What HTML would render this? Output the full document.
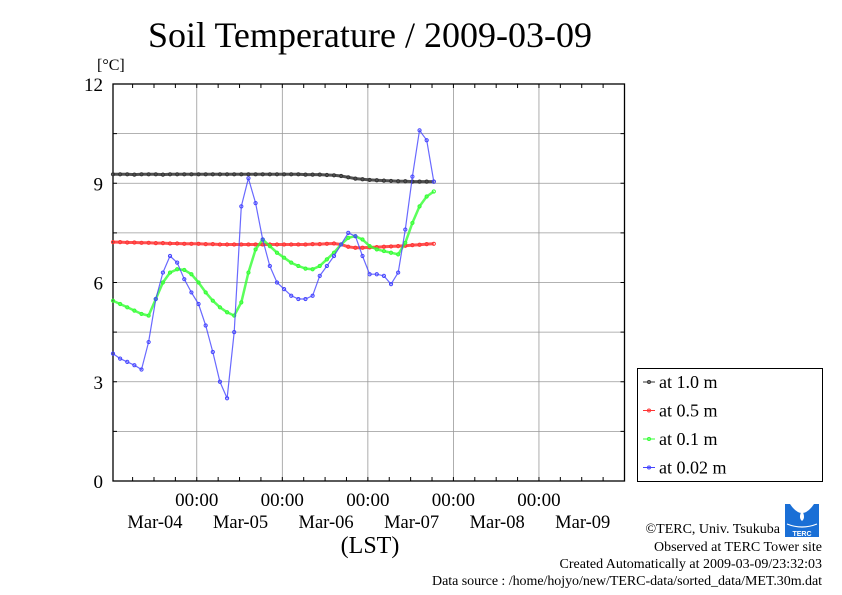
<!DOCTYPE html>
<html><head><meta charset="utf-8"><style>
body{margin:0;background:#fff;}
svg{display:block;font-family:"Liberation Serif",serif;}
</style></head><body>
<svg id="c" width="842" height="595" viewBox="0 0 842 595">
<text x="370" y="47" font-size="36" text-anchor="middle" textLength="444">Soil Temperature / 2009-03-09</text>
<text x="97" y="70" font-size="16">[°C]</text>
<text x="370" y="553" font-size="24" text-anchor="middle">(LST)</text>
<g id="plot"></g>
<g>
<rect x="637.5" y="368.5" width="185" height="113" fill="#fff" stroke="#000" stroke-width="1"/>
<g id="leg"></g>
</g>
<g>
<rect x="785" y="504" width="34" height="33" fill="#1a6fd6"/>
<path d="M790 504 Q802 522 814 504 Z" fill="#fff"/>
<path d="M802 510 Q798 518 802 521 Q806 518 802 510 Z" fill="#fff"/>
<path d="M787 524 Q802 530 817 524" stroke="#fff" fill="none" stroke-width="1.2"/>
<text x="802" y="536" font-size="7" fill="#fff" text-anchor="middle" font-family="Liberation Sans,sans-serif" font-weight="bold">TERC</text>
</g>
<g font-size="14" text-anchor="end">
<text x="780" y="533">©TERC, Univ. Tsukuba</text>
<text x="822" y="551">Observed at TERC Tower site</text>
<text x="822" y="568">Created Automatically at 2009-03-09/23:32:03</text>
<text x="822" y="585" textLength="390">Data source : /home/hojyo/new/TERC-data/sorted_data/MET.30m.dat</text>
</g>
</svg>
<script>
const hours=[-23.5,-21.5,-19.5,-17.5,-15.5,-13.5,-11.5,-9.5,-7.5,-5.5,-3.5,-1.5,0.5,2.5,4.5,6.5,8.5,10.5,12.5,14.5,16.5,18.5,20.5,22.5,24.5,26.5,28.5,30.5,32.5,34.5,36.5,38.5,40.5,42.5,44.5,46.5,48.5,50.5,52.5,54.5,56.5,58.5,60.5,62.5,64.5,66.5];
const t100=[9.27,9.27,9.27,9.26,9.27,9.27,9.27,9.26,9.27,9.27,9.27,9.27,9.27,9.27,9.27,9.27,9.27,9.27,9.27,9.27,9.27,9.27,9.27,9.27,9.27,9.27,9.27,9.26,9.26,9.26,9.25,9.24,9.22,9.18,9.14,9.12,9.1,9.09,9.08,9.07,9.06,9.06,9.05,9.05,9.05,9.05];
const t050=[7.22,7.22,7.21,7.21,7.2,7.2,7.19,7.19,7.18,7.18,7.17,7.17,7.17,7.16,7.16,7.15,7.15,7.15,7.15,7.15,7.15,7.15,7.15,7.15,7.15,7.15,7.15,7.15,7.16,7.16,7.17,7.18,7.15,7.08,7.05,7.05,7.06,7.07,7.08,7.09,7.1,7.11,7.13,7.14,7.16,7.17];
const t010=[5.45,5.35,5.25,5.15,5.05,5.0,5.5,6.0,6.3,6.4,6.38,6.25,6.0,5.7,5.45,5.25,5.1,5.0,5.4,6.3,7.0,7.3,7.1,6.9,6.75,6.6,6.5,6.42,6.4,6.5,6.7,6.9,7.15,7.35,7.4,7.3,7.1,7.0,6.95,6.9,6.85,7.2,7.8,8.3,8.6,8.75];
const t002=[3.85,3.7,3.6,3.5,3.37,4.2,5.5,6.3,6.8,6.6,6.1,5.7,5.35,4.7,3.9,3.0,2.5,4.5,8.3,9.15,8.4,7.3,6.5,6.0,5.8,5.6,5.5,5.5,5.6,6.2,6.5,6.8,7.15,7.5,7.4,6.8,6.25,6.25,6.2,5.95,6.3,7.6,9.2,10.6,10.3,9.05];
const yTicks=[0,3,6,9,12];
const dayLabels=["Mar-04","Mar-05","Mar-06","Mar-07","Mar-08","Mar-09"];
const seriesNames=["at 1.0 m","at 0.5 m","at 0.1 m","at 0.02 m"];
const seriesColors=["#333","#f33","#3f3","#44f"];

const NS="http://www.w3.org/2000/svg";
const L=113,R=624.5,T=84,B=481,HMIN=-23.5,HMAX=120,YMAX=12;
const xs=h=>L+(h-HMIN)/(HMAX-HMIN)*(R-L);
const ys=v=>B-v/YMAX*(B-T);
const plot=document.getElementById('plot');
function mk(tag,attrs,parent){const e=document.createElementNS(NS,tag);for(const k in attrs)e.setAttribute(k,attrs[k]);(parent||plot).appendChild(e);return e;}
for(let v=1.5;v<YMAX;v+=1.5){const g=mk('line',{x1:L,x2:R,y1:ys(v),y2:ys(v),stroke:'#999','stroke-width':0.8});

}
for(let d=0;d<5;d++){const g=mk('line',{x1:xs(d*24),x2:xs(d*24),y1:T,y2:B,stroke:'#999','stroke-width':0.8});


const t=mk('text',{x:xs(d*24),y:506,'font-size':19,'text-anchor':'middle'});t.textContent='00:00';

}
for(let h=-18;h<HMAX;h+=6){mk('line',{x1:xs(h),x2:xs(h),y1:T,y2:T+4,stroke:'#000'});mk('line',{x1:xs(h),x2:xs(h),y1:B,y2:B-4,stroke:'#000'});}
dayLabels.forEach((lab,i)=>{const t=mk('text',{x:xs(i*24-12)+1,y:528,'font-size':18.5,'text-anchor':'middle'});t.textContent=lab;

});
for(let v=1.5;v<YMAX;v+=1.5){mk('line',{x1:L,x2:L+4,y1:ys(v),y2:ys(v),stroke:'#000'});mk('line',{x1:R,x2:R-4,y1:ys(v),y2:ys(v),stroke:'#000'});}
yTicks.forEach(v=>{const t=mk('text',{x:103,y:ys(v)+7,'font-size':19,'text-anchor':'end'});t.textContent=v;

});
const fr=mk('rect',{x:L,y:T,width:R-L,height:B-T,fill:'none',stroke:'#000','stroke-width':1.3});


[t100,t050,t010,t002].forEach((data,si)=>{
 const g=mk('g',{});
 
 
 const pts=data.map((v,i)=>xs(hours[i]).toFixed(1)+','+ys(v).toFixed(1)).join(' ');
 mk('polyline',{points:pts,fill:'none',stroke:seriesColors[si],'stroke-width':si<2?3:(si==2?2.5:1.2),'stroke-linejoin':'round','stroke-opacity':si<2?0.85:0.8},g);
 data.forEach((v,i)=>{const c=mk('circle',{cx:xs(hours[i]),cy:ys(v),r:1.6,fill:'none',stroke:seriesColors[si],'stroke-width':1},g);
 
 });
});
const leg=document.getElementById('leg');
seriesNames.forEach((n,i)=>{const y=382+i*28.5;
 const g=mk('g',{},leg);
 
 
 mk('line',{x1:643,x2:655,y1:y,y2:y,stroke:seriesColors[i]},g);
 mk('circle',{cx:649,cy:y,r:1.5,fill:'none',stroke:seriesColors[i]},g);
 const t=mk('text',{x:659,y:y+6,'font-size':18},g);t.textContent=n;});
</script>
</body></html>
